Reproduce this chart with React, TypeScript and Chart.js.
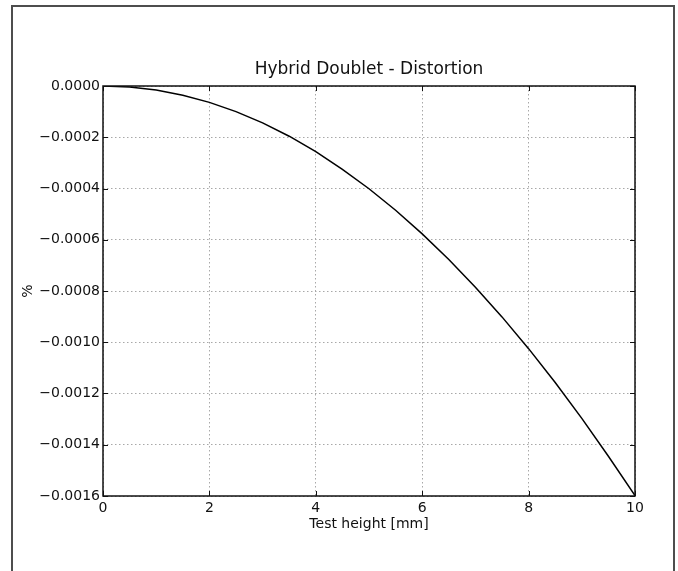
import React, { useEffect, useRef } from "react";
import { Chart, registerables } from "chart.js";

Chart.register(...registerables);

// Test height [mm]
const heights = [0, 0.5, 1, 1.5, 2, 2.5, 3, 3.5, 4, 4.5, 5, 5.5, 6, 6.5, 7, 7.5, 8, 8.5, 9, 9.5, 10];
// Distortion [%]
const distortion = [
  0, -0.000004, -0.000016, -0.000036, -0.000064, -0.0001, -0.000144, -0.000196,
  -0.000256, -0.000325, -0.000401, -0.000485, -0.000577, -0.000677, -0.000785,
  -0.000901, -0.001025, -0.001157, -0.001297, -0.001445, -0.001598,
];

const xTicks = [0, 2, 4, 6, 8, 10];
const yTicks = [0, -0.0002, -0.0004, -0.0006, -0.0008, -0.001, -0.0012, -0.0014, -0.0016];

const FONT = "DejaVu Sans";
const INK = "#111111";

const fmtY = (v: number) => (v < 0 ? "\u2212" : "") + Math.abs(v).toFixed(4);

// Frame around the plot area plus inward tick marks on all four sides
const frameAndTicks = {
  id: "frameAndTicks",
  afterDatasetsDraw(chart: any) {
    const { ctx, chartArea: a, scales } = chart;
    const len = 5;
    ctx.save();
    ctx.strokeStyle = INK;
    ctx.lineWidth = 1;
    ctx.beginPath();
    for (const v of xTicks) {
      const px = Math.round(scales.x.getPixelForValue(v)) + 0.5;
      ctx.moveTo(px, a.bottom);
      ctx.lineTo(px, a.bottom - len);
      ctx.moveTo(px, a.top);
      ctx.lineTo(px, a.top + len);
    }
    for (const v of yTicks) {
      const py = Math.round(scales.y.getPixelForValue(v)) + 0.5;
      ctx.moveTo(a.left, py);
      ctx.lineTo(a.left + len, py);
      ctx.moveTo(a.right, py);
      ctx.lineTo(a.right - len, py);
    }
    ctx.stroke();
    ctx.lineWidth = 1.5;
    ctx.strokeRect(a.left, a.top, a.right - a.left, a.bottom - a.top);
    ctx.restore();
  },
};

export default function App() {
  const ref = useRef<HTMLCanvasElement | null>(null);

  useEffect(() => {
    const canvas = ref.current;
    if (!canvas) return;
    const chart = new Chart(canvas, {
      type: "line",
      data: {
        datasets: [
          {
            data: heights.map((h, i) => ({ x: h, y: distortion[i] })),
            borderColor: "#000000",
            borderWidth: 1.5,
            pointRadius: 0,
            tension: 0,
            fill: false,
          },
        ],
      },
      options: {
        responsive: false,
        animation: false,
        layout: { padding: { left: 0, right: 43, top: 0, bottom: 0 } },
        plugins: {
          legend: { display: false },
          tooltip: { enabled: false },
          title: {
            display: true,
            fullSize: false,
            text: "Hybrid Doublet - Distortion",
            color: INK,
            font: { family: FONT, size: 17, weight: "normal", lineHeight: 1.2 },
            padding: { top: 59.8, bottom: 5.8 },
          },
        },
        scales: {
          x: {
            type: "linear",
            min: 0,
            max: 10,
            afterFit: (s: any) => {
              s.height = 75;
            },
            afterBuildTicks: (s: any) => {
              s.ticks = xTicks.map((v) => ({ value: v }));
            },
            ticks: {
              color: INK,
              padding: 4,
              maxRotation: 0,
              font: { family: FONT, size: 14 },
              callback: (v: any) => String(v),
            },
            grid: { color: "#a8a8a8", lineWidth: 1, drawTicks: false },
            border: { display: false, dash: [1.5, 2.5] },
            title: {
              display: true,
              text: "Test height [mm]",
              color: INK,
              font: { family: FONT, size: 14, lineHeight: 1.2 },
              padding: { top: 0, bottom: 37.8 },
            },
          },
          y: {
            type: "linear",
            min: -0.0016,
            max: 0,
            afterFit: (s: any) => {
              s.width = 103;
            },
            afterBuildTicks: (s: any) => {
              s.ticks = yTicks.map((v) => ({ value: v }));
            },
            ticks: {
              color: INK,
              padding: 3,
              font: { family: FONT, size: 14 },
              callback: (v: any) => fmtY(Number(v)),
            },
            grid: { color: "#a8a8a8", lineWidth: 1, drawTicks: false },
            border: { display: false, dash: [1.5, 2.5] },
            title: {
              display: true,
              text: "%",
              color: INK,
              font: { family: FONT, size: 14, lineHeight: 1.2 },
              padding: { top: 19.6, bottom: 0 },
            },
          },
        },
      },
      plugins: [frameAndTicks],
    });
    return () => chart.destroy();
  }, []);

  return (
    <div
      style={{
        position: "absolute",
        left: 0,
        top: 0,
        width: 678,
        height: 571,
        overflow: "hidden",
        background: "#ffffff",
      }}
    >
      <div
        style={{
          position: "absolute",
          left: 11,
          top: 5,
          width: 660,
          height: 620,
          borderLeft: "2px solid #4d4d4d",
          borderTop: "2px solid #4d4d4d",
          borderRight: "2px solid #4d4d4d",
        }}
      />
      <canvas
        ref={ref}
        width={678}
        height={571}
        style={{ position: "absolute", left: 0, top: 0, width: 678, height: 571 }}
      />
    </div>
  );
}
